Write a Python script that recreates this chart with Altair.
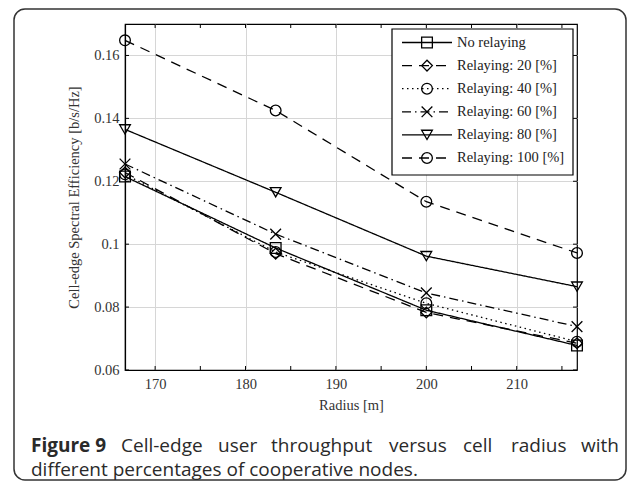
import altair as alt
import pandas as pd

# ---------------- data ----------------
radius = [166.667, 183.333, 200.0, 216.667]
series_names = [
    "No relaying",
    "Relaying: 20 [%]",
    "Relaying: 40 [%]",
    "Relaying: 60 [%]",
    "Relaying: 80 [%]",
    "Relaying: 100 [%]",
]
no_relaying = [0.1215, 0.0988, 0.0790, 0.0678]
relay_20 = [0.1228, 0.0970, 0.0783, 0.0685]
relay_40 = [0.1222, 0.0975, 0.0812, 0.0690]
relay_60 = [0.1255, 0.1032, 0.0845, 0.0738]
relay_80 = [0.1365, 0.1165, 0.0962, 0.0865]
relay_100 = [0.1648, 0.1425, 0.1135, 0.0972]

x_tick_marks = [170, 175, 180, 185, 190, 195, 200, 205, 210, 215]
x_tick_labels = [170, 180, 190, 200, 210]
y_tick_labels = [0.06, 0.08, 0.10, 0.12, 0.14, 0.16]

caption_bold = "Figure 9"
caption_line1_words = ["Cell-edge", "user", "throughput", "versus", "cell", "radius"]
caption_line1_last = "with"
caption_line2 = "different percentages of cooperative nodes."

# ---------------- styles / layout ----------------
X_PATH = "M-1,-1L1,1M-1,1L1,-1"
dashes = [[1, 0], [10, 7], [1.5, 3.5], [9, 4, 1.5, 4], [1, 0], [10, 7]]
shapes = ["square", "diamond", "circle", X_PATH, "triangle-down", "circle"]

W, H = 452, 346
SERIF = "Liberation Serif, Times New Roman, serif"
SANS = "Open Sans, Noto Sans, sans-serif"
CAP_SIZE = 19
CAP_COLOR = "#2a2a2a"
# justified first caption line: left edge of each word (pixels, plot-relative)
caption_line1_word_x = [-4, 93, 146, 264, 338, 386]

all_vals = [no_relaying, relay_20, relay_40, relay_60, relay_80, relay_100]
rows = []
for name, vals in zip(series_names, all_vals):
    for r, v in zip(radius, vals):
        rows.append({"series": name, "radius": r, "value": v})
df = pd.DataFrame(rows)

xs = alt.Scale(domain=[166.667, 216.667], nice=False, zero=False)
ys = alt.Scale(domain=[0.06, 0.17], nice=False, zero=False)
dash_scale = alt.Scale(domain=series_names, range=dashes)
shape_scale = alt.Scale(domain=series_names, range=shapes)

base = alt.Chart(df)

lines = base.mark_line(color="black", strokeWidth=1.3).encode(
    x=alt.X(
        "radius:Q",
        scale=xs,
        title="Radius [m]",
        axis=alt.Axis(values=x_tick_labels, format="d", grid=True, labelPadding=7, titlePadding=8),
    ),
    y=alt.Y(
        "value:Q",
        scale=ys,
        title="Cell-edge Spectral Efficiency [b/s/Hz]",
        axis=alt.Axis(values=y_tick_labels, format=".2~f", grid=True, labelPadding=6, titlePadding=12),
    ),
    strokeDash=alt.StrokeDash("series:N", scale=dash_scale, legend=None),
)

points = base.mark_point(filled=False, color="black", strokeWidth=1.3, size=115, opacity=1).encode(
    x=alt.X("radius:Q", scale=xs),
    y=alt.Y("value:Q", scale=ys, axis=None),
    shape=alt.Shape("series:N", scale=shape_scale, legend=None),
)

xt = pd.DataFrame({"t": x_tick_marks})
yt = pd.DataFrame({"t": y_tick_labels})
tick_bottom = alt.Chart(xt).mark_rule(color="black", strokeWidth=1).encode(
    x=alt.X("t:Q", scale=xs), y=alt.value(H), y2=alt.value(H - 4)
)
tick_top = alt.Chart(xt).mark_rule(color="black", strokeWidth=1).encode(
    x=alt.X("t:Q", scale=xs), y=alt.value(0), y2=alt.value(4)
)
tick_left = alt.Chart(yt).mark_rule(color="black", strokeWidth=1).encode(
    y=alt.Y("t:Q", scale=ys, axis=None), x=alt.value(0), x2=alt.value(4)
)
tick_right = alt.Chart(yt).mark_rule(color="black", strokeWidth=1).encode(
    y=alt.Y("t:Q", scale=ys, axis=None), x=alt.value(W - 4), x2=alt.value(W)
)

# ---------------- legend ----------------
leg_df = pd.DataFrame({"series": series_names})
ly = alt.Y(
    "series:N",
    scale=alt.Scale(type="point", domain=series_names, range=[18.5, 134], padding=0),
    axis=None,
)
one = pd.DataFrame({"k": [0]})
leg_box = alt.Chart(one).mark_rect(fill="white", stroke="black", strokeWidth=1.2).encode(
    x=alt.value(267), x2=alt.value(448), y=alt.value(5), y2=alt.value(151)
)
leg_lines = alt.Chart(leg_df).mark_rule(color="black", strokeWidth=1.3).encode(
    x=alt.value(277), x2=alt.value(327), y=ly,
    strokeDash=alt.StrokeDash("series:N", scale=dash_scale, legend=None),
)
leg_points = alt.Chart(leg_df).mark_point(filled=False, color="black", strokeWidth=1.3, size=115, opacity=1).encode(
    x=alt.value(302), y=ly,
    shape=alt.Shape("series:N", scale=shape_scale, legend=None),
)
leg_text = alt.Chart(leg_df).mark_text(
    align="left", baseline="middle", font=SERIF, fontSize=14.5, color="#222"
).encode(x=alt.value(332), y=ly, text="series:N")

# ---------------- caption ----------------
cap_box = alt.Chart(one).mark_rect(
    filled=False, stroke="#333", strokeWidth=1.5, cornerRadius=11
).encode(x=alt.value(-111), x2=alt.value(501), y=alt.value(-15), y2=alt.value(456))

one_cap = pd.DataFrame({"b": [caption_bold], "last": [caption_line1_last], "l2": [caption_line2]})
words_df = pd.DataFrame({"w": caption_line1_words, "px": caption_line1_word_x})

cap_style = dict(baseline="middle", font=SANS, fontSize=CAP_SIZE, color=CAP_COLOR)
LINE1_Y, LINE2_Y = 422, 446

cap_b = alt.Chart(one_cap).mark_text(align="left", fontWeight="bold", **cap_style).encode(
    x=alt.value(-94), y=alt.value(LINE1_Y), text="b:N"
)
cap_words = alt.Chart(words_df).mark_text(align="left", **cap_style).encode(
    x=alt.X("px:Q", scale=None), y=alt.value(LINE1_Y), text="w:N"
)
cap_last = alt.Chart(one_cap).mark_text(align="right", **cap_style).encode(
    x=alt.value(494), y=alt.value(LINE1_Y), text="last:N"
)
cap_2 = alt.Chart(one_cap).mark_text(align="left", **cap_style).encode(
    x=alt.value(-94), y=alt.value(LINE2_Y), text="l2:N"
)

chart = alt.layer(
    lines, points, tick_bottom, tick_top, tick_left, tick_right,
    leg_box, leg_lines, leg_points, leg_text,
    cap_box, cap_b, cap_words, cap_last, cap_2,
).resolve_scale(y="independent").properties(
    width=W, height=H,
    padding={"left": 117, "top": 16, "right": 50, "bottom": 112},
    autosize=alt.AutoSizeParams(type="none"),
).configure_view(
    stroke="black", strokeWidth=1.2
).configure_axis(
    domainColor="black", domainWidth=1.2, gridColor="#d6d6d6", gridWidth=1, ticks=False,
    labelFont=SERIF, labelFontSize=14.5, labelColor="#333",
    titleFont=SERIF, titleFontSize=14.5, titleFontWeight="normal", titleColor="#333",
)

chart.save("out.html", embed_options={"renderer": "svg", "actions": False})
